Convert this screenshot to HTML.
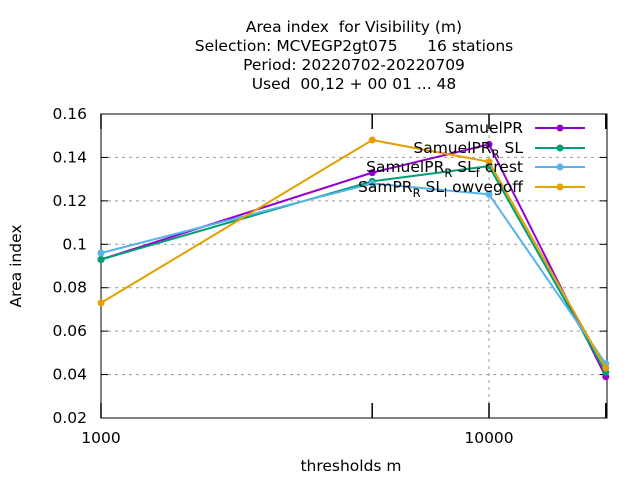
<!DOCTYPE html>
<html><head><meta charset="utf-8"><style>
body{margin:0;background:#fff}
svg{font-family:"DejaVu Sans","Liberation Sans",sans-serif;font-size:15.5px}
</style></head><body>
<svg id="c" width="640" height="480" xml:space="preserve">
<g text-anchor="middle">
<text x="354" y="32" xml:space="preserve">Area index  for Visibility (m)</text>
<text x="354" y="51" xml:space="preserve">Selection: MCVEGP2gt075      16 stations</text>
<text x="354" y="70">Period: 20220702-20220709</text>
<text x="354" y="89" xml:space="preserve">Used  00,12 + 00 01 ... 48</text>
</g>
<g id="grid"></g>
<rect x="101" y="114" width="506" height="304" fill="none" stroke="#000"/>
<g id="axes"></g>
<text x="21" y="266" transform="rotate(-90 21 266)" text-anchor="middle">Area index</text>
<text x="351" y="471" text-anchor="middle">thresholds m</text>
<g id="series"></g>
<g id="legend"></g>
</svg>
<script>
const thresholds=[1000,5000,10000,20000];
const seriesNames=["SamuelPR","SamuelPR_R SL","SamuelPR_R SL_f crest","SamPR_R SL_l owvegoff"];
const sPR=[0.093,0.133,0.146,0.039];
const sSL=[0.093,0.129,0.136,0.041];
const sCrest=[0.096,0.128,0.123,0.045];
const sLow=[0.073,0.148,0.138,0.043];
const yTicks=[0.02,0.04,0.06,0.08,0.1,0.12,0.14,0.16];
const yTickLabels=["0.02","0.04","0.06","0.08","0.1","0.12","0.14","0.16"];
const xTicks=[1000,10000];
const colors=["#9400d3","#009e73","#56b4e9","#e69f00"];
const NS="http://www.w3.org/2000/svg";
const X=v=>101+388*Math.log10(v/1000);
const Y=v=>418-(v-0.02)/0.14*304;
function mk(t,a,p){const e=document.createElementNS(NS,t);for(const k in a)e.setAttribute(k,a[k]);p.appendChild(e);return e;}
const grid=document.getElementById('grid'),axes=document.getElementById('axes');
yTicks.forEach((v,i)=>{
 const y=Y(v);
 if(i>0&&i<yTicks.length-1){const g=mk('line',{x1:101,x2:607,y1:y,y2:y,stroke:'#999','stroke-dasharray':'3,4','stroke-width':1},grid);
 
 }
 mk('line',{x1:101,x2:108,y1:y,y2:y,stroke:'#000'},axes);
 mk('line',{x1:600,x2:607,y1:y,y2:y,stroke:'#000'},axes);
 const t=mk('text',{x:87,y:y+5,'text-anchor':'end'},axes);t.textContent=yTickLabels[i];
 
 
});
xTicks.forEach(v=>{
 const x=X(v);
 const g=mk('line',{x1:x,x2:x,y1:114,y2:418,stroke:'#999','stroke-dasharray':'3,4'},grid);
 
 
 const t=mk('text',{x:x,y:443,'text-anchor':'middle'},axes);t.textContent=String(v);
 
 
});
thresholds.forEach(v=>{const x=X(v);
 mk('line',{x1:x,x2:x,y1:418,y2:403,stroke:'#000','stroke-width':1.5},axes);
 mk('line',{x1:x,x2:x,y1:114,y2:129,stroke:'#000','stroke-width':1.5},axes);});
const all=[sPR,sSL,sCrest,sLow];
const S=document.getElementById('series'),Lg=document.getElementById('legend');
const legY=[128,148,167,187];
all.forEach((s,i)=>{
 const g=mk('g',{},S);
 
 
 mk('polyline',{points:s.map((v,j)=>X(thresholds[j])+','+Y(v)).join(' '),fill:'none',stroke:colors[i],'stroke-width':2}, g);
 s.forEach((v,j)=>{const p=mk('circle',{cx:X(thresholds[j]),cy:Y(v),r:3.5,fill:colors[i]},g);
  
  });
 const e=mk('g',{},Lg);
 
 
 const y=legY[i];
 const t=mk('text',{x:523,y:y+5,'text-anchor':'end'},e);
 const parts=seriesNames[i].split('_');
 parts.forEach((p,k)=>{const ts=mk('tspan',{},t);
  if(k>0){ts.setAttribute('dy','5');ts.setAttribute('font-size','11.5');ts.textContent=p[0];
   const r=mk('tspan',{dy:'-5','font-size':'15.5'},t);r.textContent=p.slice(1);}
  else ts.textContent=p;});
 mk('line',{x1:535,x2:585,y1:y,y2:y,stroke:colors[i],'stroke-width':2},e);
 mk('circle',{cx:560,cy:y,r:3.5,fill:colors[i]},e);
});
</script>
</body></html>
